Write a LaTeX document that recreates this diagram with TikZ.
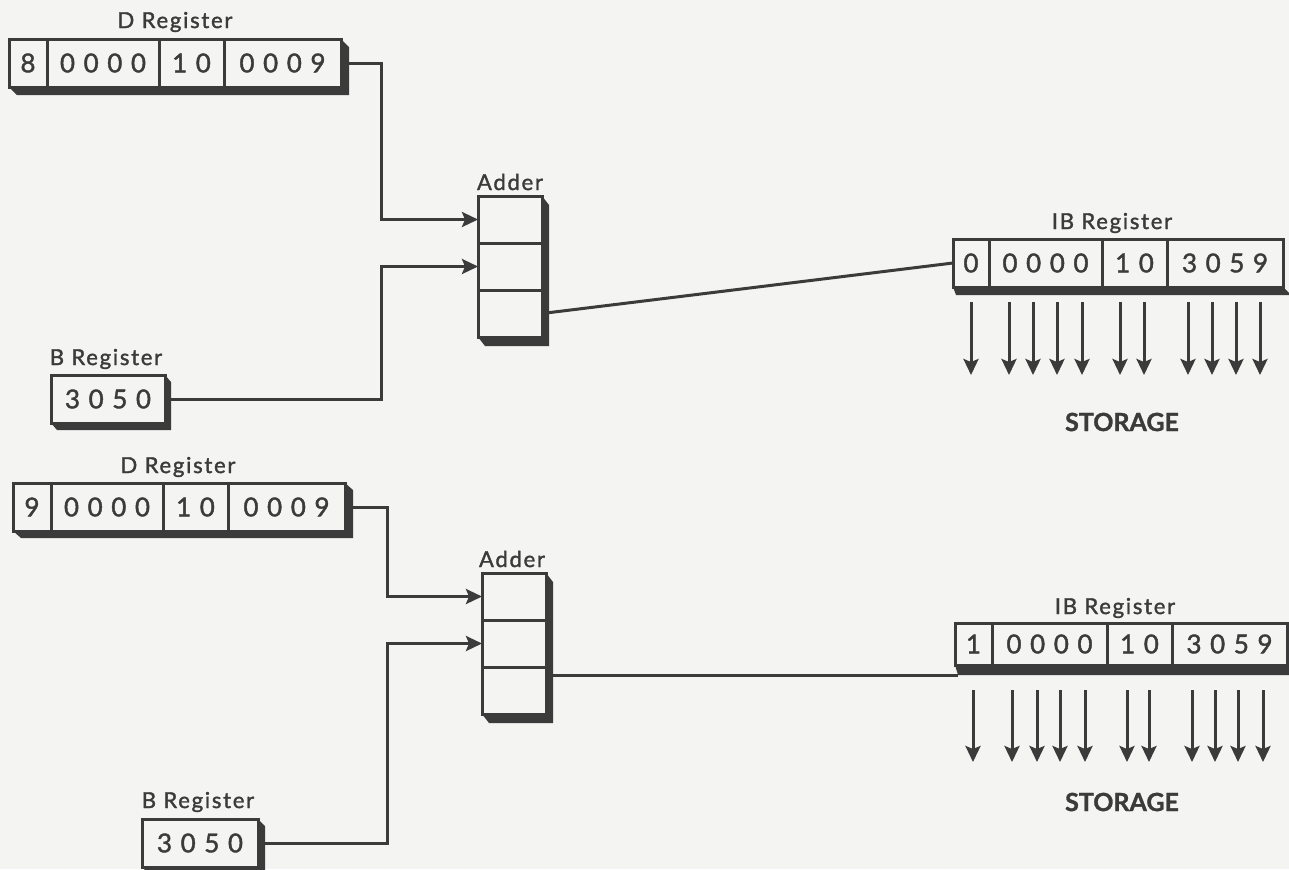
\documentclass[tikz,border=0pt]{standalone}
\usepackage{fontspec}
\setmainfont{Lato}[FakeBold=1.2]
\newfontfamily\regfont{Lato}[LetterSpace=8, FakeBold=1.6]
\newfontfamily\digfont{Lato}[LetterSpace=33, FakeBold=1.6]
\usepackage{tikz}
\usetikzlibrary{arrows.meta, positioning, calc}
\definecolor{ink}{HTML}{3B3B3B}
\definecolor{paper}{HTML}{F4F4F2}

\begin{document}
\begin{tikzpicture}[x=0.5pt, y=-0.5pt, line width=1.5pt, color=ink,
  cell/.style={draw, fill=paper, minimum height=24pt, inner sep=0pt, outer sep=0pt,
    font=\digfont\fontsize{13}{14}\selectfont},
  lbl/.style={font=\regfont\fontsize{11}{12}\selectfont},
  tag/.style={font=\bfseries\fontsize{12.5}{13}\selectfont},
  flow/.style={-{Stealth[length=8pt, width=7.5pt, inset=1.5pt]}},
  extrude/.style={fill=ink, draw=none}]
  \useasboundingbox (0,0) rectangle (1289,869);
  \fill[paper] (0,0) rectangle (1289,869);
  \clip (0,0) rectangle (1289,869);

  % upper example
  \node[lbl] (d1lbl) at (175,22) {D Register};
  \node[cell, minimum width=19pt] (d1a) at (28,63) {8};
  \node[cell, minimum width=56pt, right=0pt of d1a] (d1b) {0000};
  \node[cell, minimum width=32.5pt, right=0pt of d1b] (d1c) {10};
  \node[cell, minimum width=58.5pt, right=0pt of d1c] (d1d) {0009};

  \node[lbl] (b1lbl) at (106,359) {B Register};
  \node[cell, minimum width=57pt] (b1) at (108,399) {3050};

  \node[lbl] (a1lbl) at (510,182) {Adder};
  \node[cell, minimum width=32pt, minimum height=23.5pt] (a1a) at (510,219.5) {};
  \node[cell, minimum width=32pt, minimum height=23.5pt, below=0pt of a1a] (a1b) {};
  \node[cell, minimum width=32pt, minimum height=23.5pt, below=0pt of a1b] (a1c) {};

  \node[lbl] (ib1lbl) at (1112,223) {IB Register};
  \node[cell, minimum width=18pt] (ib1a) at (971,263) {0};
  \node[cell, minimum width=56.5pt, right=0pt of ib1a] (ib1b) {0000};
  \node[cell, minimum width=32.5pt, right=0pt of ib1b] (ib1c) {10};
  \node[cell, minimum width=58pt, right=0pt of ib1c] (ib1d) {3059};
  \node[tag] (st1) at (1122,422) {STORAGE};

  \draw[flow] (d1d.east) -- ++(40,0) |- (a1a.west);
  \draw[flow] (b1.east) -- ++(216,0) |- (a1b.west);
  \draw (a1c.east) -- (ib1a.west);
  \foreach \x in {971,1009,1033,1057,1082,1120,1144,1188,1212,1236,1260}
    \draw[flow] (\x,0 |- ib1a.south) ++(0,15) -- ++(0,73);

  \fill[extrude] (d1d.north east) -- ++(8,8) |- ($(d1a.south west)+(8,8)$) -- (d1a.south west) -- (d1d.south east) -- cycle;
  \fill[extrude] (b1.north east) -- ++(6,7) |- ($(b1.south west)+(6,7)$) -- (b1.south west) -- (b1.south east) -- cycle;
  \fill[extrude] (a1a.north east) -- ++(7,9) |- ($(a1c.south west)+(7,9)$) -- (a1c.south west) -- (a1c.south east) -- cycle;
  \fill[extrude] (ib1a.south west) -- ++(3,8) -- ($(ib1d.south east)+(8,8)$) -- (ib1d.south east) -- cycle;

  % lower example
  \node[lbl] (d2lbl) at (178,467) {D Register};
  \node[cell, minimum width=19pt] (d2a) at (32,507) {9};
  \node[cell, minimum width=56pt, right=0pt of d2a] (d2b) {0000};
  \node[cell, minimum width=32.5pt, right=0pt of d2b] (d2c) {10};
  \node[cell, minimum width=58.5pt, right=0pt of d2c] (d2d) {0009};

  \node[lbl] (b2lbl) at (198,802) {B Register};
  \node[cell, minimum width=58pt] (b2) at (200,843) {3050};

  \node[lbl] (a2lbl) at (512,559) {Adder};
  \node[cell, minimum width=32pt, minimum height=23.5pt] (a2a) at (514,596.5) {};
  \node[cell, minimum width=32pt, minimum height=23.5pt, below=0pt of a2a] (a2b) {};
  \node[cell, minimum width=32pt, minimum height=23.5pt, below=0pt of a2b] (a2c) {};

  \node[lbl] (ib2lbl) at (1115,608) {IB Register};
  \node[cell, minimum width=18.5pt, minimum height=21pt] (ib2a) at (973.5,644) {1};
  \node[cell, minimum width=57.5pt, minimum height=21pt, right=0pt of ib2a] (ib2b) {0000};
  \node[cell, minimum width=32.5pt, minimum height=21pt, right=0pt of ib2b] (ib2c) {10};
  \node[cell, minimum width=57.5pt, minimum height=21pt, right=0pt of ib2c] (ib2d) {3059};
  \node[tag] (st2) at (1122,802) {STORAGE};
  \coordinate (ib2foot) at ($(ib2a.south west)+(3,10)$);

  \draw[flow] (d2d.east) -- ++(42,0) |- (a2a.west);
  \draw[flow] (b2.east) -- ++(129,0) |- (a2b.west);
  \draw (a2c.east |- ib2foot) -- (ib2foot);
  \foreach \x in {973,1012,1037,1060,1085,1127,1149,1192,1215,1238,1263}
    \draw[flow] (\x,0 |- ib2a.south) ++(0,25) -- ++(0,72);

  \fill[extrude] (d2d.north east) -- ++(8,7) |- ($(d2a.south west)+(8,7)$) -- (d2a.south west) -- (d2d.south east) -- cycle;
  \fill[extrude] (b2.north east) -- ++(7,7) |- ($(b2.south west)+(7,7)$) -- (b2.south west) -- (b2.south east) -- cycle;
  \fill[extrude] (a2a.north east) -- ++(7,9) |- ($(a2c.south west)+(7,9)$) -- (a2c.south west) -- (a2c.south east) -- cycle;
  \fill[extrude] (ib2a.south west) -- ++(3,10) -- ($(ib2d.south east)+(8,10)$) -- (ib2d.south east) -- cycle;
\end{tikzpicture}
\end{document}
